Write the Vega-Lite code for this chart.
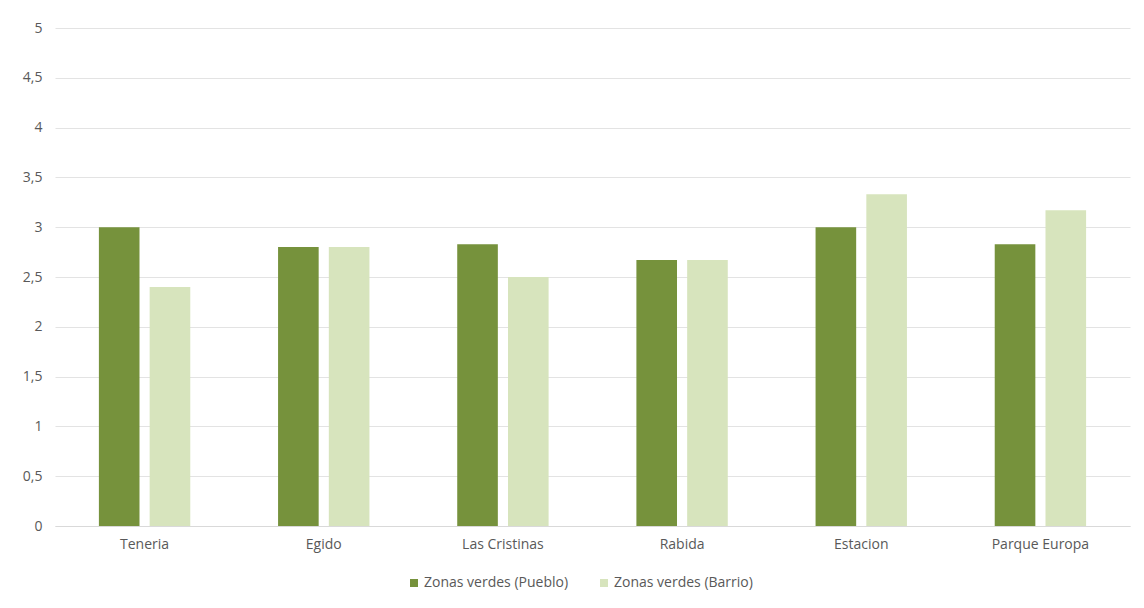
{
  "$schema": "https://vega.github.io/schema/vega-lite/v6.json",
  "autosize": {"type": "none"},
  "padding": {"left": 55, "top": 28, "right": 14, "bottom": 82},
  "width": 1075,
  "height": 498,
  "background": "white",
  "config": {
    "view": {"stroke": null},
    "font": "Open Sans",
    "axis": {"labelColor": "#595959", "labelFontSize": 14, "labelFont": "Open Sans"},
    "legend": {"labelColor": "#595959", "labelFontSize": 14, "labelFont": "Open Sans"}
  },
  "data": {
    "values": [
      {"zona": "Teneria", "serie": "Zonas verdes (Pueblo)", "valor": 3.0},
      {"zona": "Teneria", "serie": "Zonas verdes (Barrio)", "valor": 2.4},
      {"zona": "Egido", "serie": "Zonas verdes (Pueblo)", "valor": 2.8},
      {"zona": "Egido", "serie": "Zonas verdes (Barrio)", "valor": 2.8},
      {"zona": "Las Cristinas", "serie": "Zonas verdes (Pueblo)", "valor": 2.83},
      {"zona": "Las Cristinas", "serie": "Zonas verdes (Barrio)", "valor": 2.5},
      {"zona": "Rabida", "serie": "Zonas verdes (Pueblo)", "valor": 2.67},
      {"zona": "Rabida", "serie": "Zonas verdes (Barrio)", "valor": 2.67},
      {"zona": "Estacion", "serie": "Zonas verdes (Pueblo)", "valor": 3.0},
      {"zona": "Estacion", "serie": "Zonas verdes (Barrio)", "valor": 3.33},
      {"zona": "Parque Europa", "serie": "Zonas verdes (Pueblo)", "valor": 2.83},
      {"zona": "Parque Europa", "serie": "Zonas verdes (Barrio)", "valor": 3.17}
    ]
  },
  "mark": {"type": "bar"},
  "encoding": {
    "x": {
      "field": "zona",
      "type": "nominal",
      "sort": null,
      "title": null,
      "scale": {"paddingInner": 0.49, "paddingOuter": 0.245},
      "axis": {"labelAngle": 0, "ticks": false, "domainColor": "#d9d9d9", "labelPadding": 11}
    },
    "xOffset": {
      "field": "serie",
      "type": "nominal",
      "sort": ["Zonas verdes (Pueblo)", "Zonas verdes (Barrio)"],
      "scale": {"paddingInner": 0.2, "paddingOuter": 0}
    },
    "y": {
      "field": "valor",
      "type": "quantitative",
      "title": null,
      "scale": {"domain": [0, 5], "nice": false},
      "axis": {
        "values": [0, 0.5, 1, 1.5, 2, 2.5, 3, 3.5, 4, 4.5, 5],
        "labelExpr": "replace(toString(datum.value), '.', ',')",
        "domain": false,
        "ticks": false,
        "gridColor": "#e3e3e3",
        "labelPadding": 13
      }
    },
    "color": {
      "field": "serie",
      "type": "nominal",
      "sort": ["Zonas verdes (Pueblo)", "Zonas verdes (Barrio)"],
      "scale": {"domain": ["Zonas verdes (Pueblo)", "Zonas verdes (Barrio)"], "range": ["#76923c", "#d7e4bd"]},
      "legend": {
        "title": null,
        "orient": "none",
        "direction": "horizontal",
        "legendX": 352,
        "legendY": 548,
        "symbolType": "square",
        "symbolSize": 64,
        "columnPadding": 28,
        "labelOffset": 3
      }
    }
  }
}
